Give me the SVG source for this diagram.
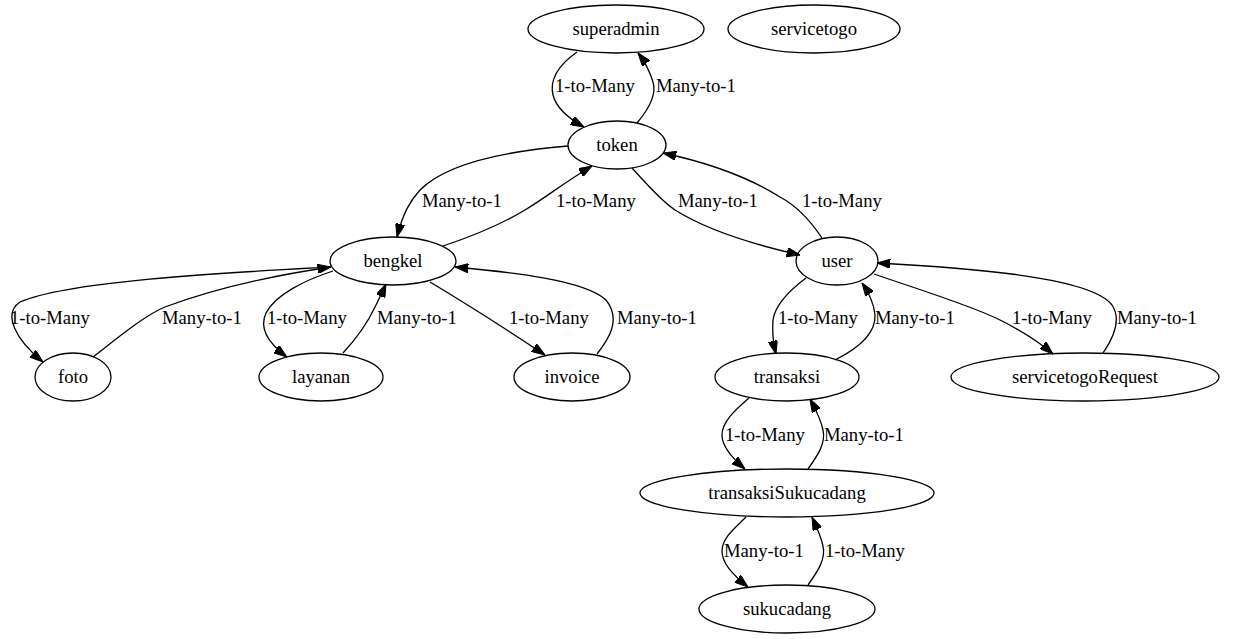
<svg xmlns="http://www.w3.org/2000/svg" width="1239" height="639" viewBox="0 0 1239 639">
  <style>
    text { font-family: "Times New Roman", Times, "Liberation Serif", "Nimbus Roman", "FreeSerif", "Noto Serif", "DejaVu Serif", serif; font-size: 18.67px; fill: #000; }
    .node ellipse { fill: none; stroke: #000; stroke-width: 1.3; }
    .node text { text-anchor: middle; }
    .edges path { fill: none; stroke: #000; stroke-width: 1.3; marker-end: url(#arrow); }
  </style>
  <defs>
    <marker id="arrow" viewBox="0 0 13.3 9.4" refX="13.3" refY="4.7" markerWidth="13.3" markerHeight="9.4" markerUnits="userSpaceOnUse" orient="auto">
      <path d="M0,0 L13.3,4.7 L0,9.4 z" fill="#000" stroke="#000" stroke-width="1"/>
    </marker>
  </defs>
  <rect width="1239" height="639" fill="#fff"/>

  <!-- connectors -->
  <g id="edges" class="edges">
    <!-- superadmin <-> token -->
    <path d="M577,52 C560,64 549,78 553,95 C556,107 566,117 584,127"/>
    <text x="555" y="92">1-to-Many</text>
    <path d="M637,123 C648,110 657,95 653,82 C650,72 645,62 638,53"/>
    <text x="656" y="92">Many-to-1</text>

    <!-- token <-> bengkel -->
    <path d="M568,146 C520,150 450,160 420,190 C410,201 403,213 397,237"/>
    <text x="422" y="207">Many-to-1</text>
    <path d="M443,246 C470,237 500,225 525,210 C545,198 565,182 592,166"/>
    <text x="556" y="207">1-to-Many</text>

    <!-- token <-> user -->
    <path d="M632,168 C645,182 660,200 675,210 C710,232 760,246 800,255"/>
    <text x="678" y="207">Many-to-1</text>
    <path d="M822,238 C810,220 795,205 780,197 C745,175 705,162 663,153"/>
    <text x="802" y="207">1-to-Many</text>

    <!-- bengkel <-> foto -->
    <path d="M331,267 C240,272 70,280 20,302 C2,314 16,340 43,362"/>
    <text x="10" y="324">1-to-Many</text>
    <path d="M93,357 C115,340 145,315 165,307 C210,290 270,276 331,267"/>
    <text x="162" y="324">Many-to-1</text>

    <!-- bengkel <-> layanan -->
    <path d="M333,271 C305,280 275,295 266,313 C259,328 268,343 287,357"/>
    <text x="267" y="324">1-to-Many</text>
    <path d="M343,353 C355,340 368,322 375,307 C379,299 382,293 386,284"/>
    <text x="377" y="324">Many-to-1</text>

    <!-- bengkel <-> invoice -->
    <path d="M430,282 C460,300 500,325 545,355"/>
    <text x="509" y="324">1-to-Many</text>
    <path d="M597,354 C608,340 622,320 606,300 C585,280 510,272 455,267"/>
    <text x="617" y="324">Many-to-1</text>

    <!-- user <-> transaksi -->
    <path d="M806,278 C790,290 775,305 773,320 C772,332 773,342 776,354"/>
    <text x="778" y="324">1-to-Many</text>
    <path d="M835,360 C855,350 876,335 875,315 C874,303 869,293 862,283"/>
    <text x="875" y="324">Many-to-1</text>

    <!-- user <-> servicetogoRequest -->
    <path d="M874,274 C920,290 970,305 1000,320 C1020,330 1038,341 1053,354"/>
    <text x="1012" y="324">1-to-Many</text>
    <path d="M1103,353 C1112,340 1122,320 1112,305 C1090,275 950,267 877,263"/>
    <text x="1117" y="324">Many-to-1</text>

    <!-- transaksi <-> transaksiSukucadang -->
    <path d="M749,398 C735,410 722,422 722,435 C722,447 732,458 745,469"/>
    <text x="725" y="441">1-to-Many</text>
    <path d="M808,469 C818,455 826,443 823,430 C821,420 816,410 810,399"/>
    <text x="824" y="441">Many-to-1</text>

    <!-- transaksiSukucadang <-> sukucadang -->
    <path d="M746,517 C735,528 722,538 722,551 C722,563 732,574 748,587"/>
    <text x="724" y="557">Many-to-1</text>
    <path d="M808,585 C818,571 826,559 823,546 C821,536 816,526 812,517"/>
    <text x="825" y="557">1-to-Many</text>
  </g>

  <!-- nodes -->
  <g id="superadmin" class="node">
    <ellipse cx="616" cy="29" rx="88" ry="24"/>
    <text x="616" y="35">superadmin</text>
  </g>
  <g id="servicetogo" class="node">
    <ellipse cx="814" cy="29" rx="86" ry="24"/>
    <text x="814" y="35">servicetogo</text>
  </g>
  <g id="token" class="node">
    <ellipse cx="617" cy="145" rx="49" ry="24"/>
    <text x="617" y="151">token</text>
  </g>
  <g id="bengkel" class="node">
    <ellipse cx="393" cy="261" rx="63" ry="24"/>
    <text x="393" y="267">bengkel</text>
  </g>
  <g id="user" class="node">
    <ellipse cx="837" cy="261" rx="41" ry="24"/>
    <text x="837" y="267">user</text>
  </g>
  <g id="foto" class="node">
    <ellipse cx="73" cy="377" rx="38" ry="24"/>
    <text x="73" y="383">foto</text>
  </g>
  <g id="layanan" class="node">
    <ellipse cx="321" cy="377" rx="62" ry="24"/>
    <text x="321" y="383">layanan</text>
  </g>
  <g id="invoice" class="node">
    <ellipse cx="572" cy="377" rx="58" ry="24"/>
    <text x="572" y="383">invoice</text>
  </g>
  <g id="transaksi" class="node">
    <ellipse cx="787" cy="377" rx="72" ry="24"/>
    <text x="787" y="383">transaksi</text>
  </g>
  <g id="servicetogoRequest" class="node">
    <ellipse cx="1085" cy="377" rx="134" ry="24"/>
    <text x="1085" y="383">servicetogoRequest</text>
  </g>
  <g id="transaksiSukucadang" class="node">
    <ellipse cx="787" cy="493" rx="147" ry="24"/>
    <text x="787" y="499">transaksiSukucadang</text>
  </g>
  <g id="sukucadang" class="node">
    <ellipse cx="787" cy="609" rx="88" ry="24"/>
    <text x="787" y="615">sukucadang</text>
  </g>
</svg>
